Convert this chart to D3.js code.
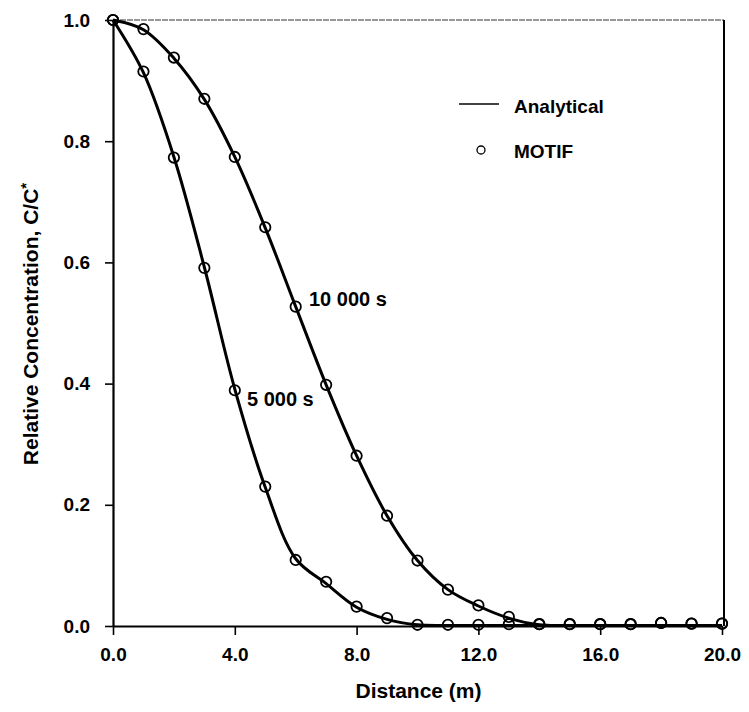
<!DOCTYPE html>
<html>
<head>
<meta charset="utf-8">
<script src="https://cdn.jsdelivr.net/npm/d3@7"></script>
<style>
  body { margin: 0; background: #fff; }
  text { font-family: "Liberation Sans", Arial, sans-serif; fill: #000; }
</style>
</head>
<body>
<div id="chart"></div>
<script>
const svgWidth = 749, svgHeight = 712;
const margin = { top: 20, right: 27, bottom: 86, left: 113 };
const width = svgWidth - margin.left - margin.right;
const height = svgHeight - margin.top - margin.bottom;

// distance along the column (m)
const distance = [0, 1, 2, 3, 4, 5, 6, 7, 8, 9, 10, 11, 12, 13, 14, 15, 16, 17, 18, 19, 20];
// analytical solution, C/C*
const analytical5000 = [1.0, 0.913, 0.774, 0.592, 0.391, 0.229, 0.111, 0.070, 0.031, 0.011, 0.002, 0.001, 0.001, 0.001, 0.001, 0.001, 0.001, 0.001, 0.001, 0.001, 0.001];
const analytical10000 = [1.0, 0.984, 0.937, 0.869, 0.774, 0.657, 0.527, 0.398, 0.281, 0.182, 0.108, 0.060, 0.033, 0.013, 0.002, 0.001, 0.001, 0.001, 0.001, 0.001, 0.001];
// MOTIF results, C/C*
const motif5000 = [1.0, 0.915, 0.773, 0.591, 0.389, 0.230, 0.109, 0.073, 0.032, 0.013, 0.002, 0.002, 0.002, 0.003, 0.003, 0.003, 0.003, 0.003, 0.005, 0.004, 0.004];
const motif10000 = [1.0, 0.985, 0.938, 0.870, 0.774, 0.658, 0.527, 0.398, 0.281, 0.182, 0.108, 0.060, 0.034, 0.015, 0.003, 0.003, 0.003, 0.003, 0.005, 0.004, 0.004];

const xTicks = [0, 4, 8, 12, 16, 20];
const yTicks = [0, 0.2, 0.4, 0.6, 0.8, 1.0];

const svg = d3.select('#chart')
  .append('svg')
  .attr('width', svgWidth)
  .attr('height', svgHeight)
  .append('g')
  .attr('transform', `translate(${margin.left},${margin.top})`);

const xScale = d3.scaleLinear().domain([0, 20]).range([0, width]);
const yScale = d3.scaleLinear().domain([0, 1]).range([height, 0]);

// frame: grey top edge, black right edge
svg.append('line')
  .attr('x1', 0).attr('x2', width + 2)
  .attr('y1', 0).attr('y2', 0)
  .attr('stroke', '#777').attr('stroke-width', 1.6)
  .attr('stroke-dasharray', '6,1');
svg.append('line')
  .attr('x1', width + 2).attr('x2', width + 2)
  .attr('y1', 0).attr('y2', height)
  .attr('stroke', '#000').attr('stroke-width', 2);

const xAxis = svg.append('g')
  .attr('transform', `translate(0,${height})`)
  .call(d3.axisBottom(xScale).tickValues(xTicks).tickSize(9).tickSizeOuter(0).tickPadding(13).tickFormat(d3.format('.1f')));
const yAxis = svg.append('g')
  .call(d3.axisLeft(yScale).tickValues(yTicks).tickSize(8).tickSizeOuter(0).tickPadding(15).tickFormat(d3.format('.1f')));

[xAxis, yAxis].forEach(ax => {
  ax.select('.domain').attr('stroke-width', 2.2);
  ax.selectAll('.tick line').attr('stroke-width', 1.6);
  ax.selectAll('.tick text')
    .style('font-size', '19px')
    .style('font-weight', 'bold');
});

svg.append('text')
  .attr('x', width / 2 + 1)
  .attr('y', height + 72)
  .attr('text-anchor', 'middle')
  .style('font-size', '21px')
  .style('font-weight', 'bold')
  .text('Distance (m)');

const yTitle = svg.append('text')
  .attr('transform', 'rotate(-90)')
  .attr('x', -304)
  .attr('y', -(margin.left - 38))
  .attr('text-anchor', 'middle')
  .style('font-size', '21px')
  .style('font-weight', 'bold');
yTitle.append('tspan').text('Relative Concentration,  C/C');
yTitle.append('tspan').attr('dy', -7).style('font-size', '15px').text('*');

const line = d3.line()
  .x((d, i) => xScale(distance[i]))
  .y(d => yScale(d))
  .curve(d3.curveCatmullRom.alpha(0.5));

[analytical5000, analytical10000].forEach(series => {
  svg.append('path')
    .datum(series)
    .attr('fill', 'none')
    .attr('stroke', '#000')
    .attr('stroke-width', 3)
    .attr('d', line);
});

[motif5000, motif10000].forEach(series => {
  svg.append('g').selectAll('circle')
    .data(series)
    .enter()
    .append('circle')
    .attr('cx', (d, i) => xScale(distance[i]))
    .attr('cy', d => yScale(d))
    .attr('r', 5.2)
    .attr('fill', 'none')
    .attr('stroke', '#000')
    .attr('stroke-width', 1.8);
});

// curve labels
svg.append('text')
  .attr('x', 196).attr('y', 286)
  .style('font-size', '20px').style('font-weight', 'bold')
  .text('10 000 s');
svg.append('text')
  .attr('x', 134).attr('y', 386)
  .style('font-size', '20px').style('font-weight', 'bold')
  .text('5 000 s');

// legend
const legend = svg.append('g').attr('transform', 'translate(346, 84)');
legend.append('line')
  .attr('x1', 0).attr('x2', 40)
  .attr('y1', 0).attr('y2', 0)
  .attr('stroke', '#444').attr('stroke-width', 2.2);
legend.append('text')
  .attr('x', 55).attr('y', 9)
  .style('font-size', '19px').style('font-weight', 'bold')
  .text('Analytical');
legend.append('circle')
  .attr('cx', 22).attr('cy', 46)
  .attr('r', 4)
  .attr('fill', 'none')
  .attr('stroke', '#000')
  .attr('stroke-width', 1.3);
legend.append('text')
  .attr('x', 55).attr('y', 54)
  .style('font-size', '19px').style('font-weight', 'bold')
  .text('MOTIF');
</script>
</body>
</html>
